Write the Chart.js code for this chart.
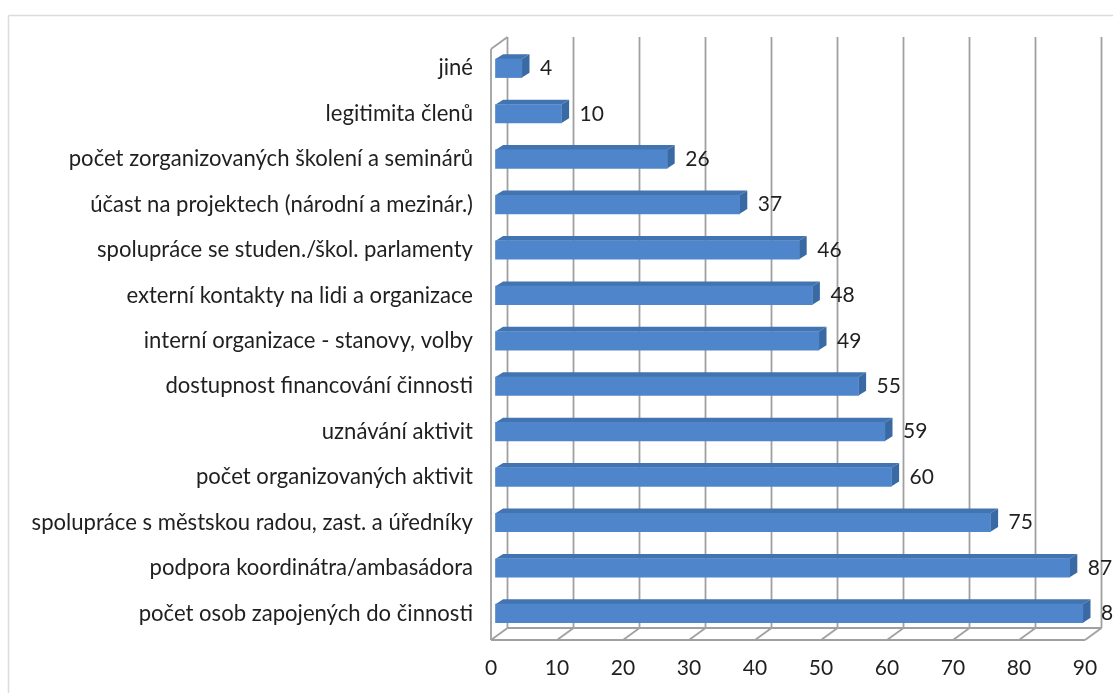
<!DOCTYPE html>
<html lang="cs">
<head>
<meta charset="utf-8">
<style>html,body{margin:0;padding:0;background:#fff;overflow:hidden}canvas{display:block;filter:blur(0.4px)}</style>
<script src="https://cdn.jsdelivr.net/npm/chart.js@4"></script>
</head>
<body>
<canvas id="c" width="1113" height="693" style="width:1113px;height:693px"></canvas>
<script>
const categories = ["jiné","legitimita členů","počet zorganizovaných školení a seminárů","účast na projektech (národní a mezinár.)","spolupráce se studen./škol. parlamenty","externí kontakty na lidi a organizace","interní organizace - stanovy, volby","dostupnost financování činnosti","uznávání aktivit","počet organizovaných aktivit","spolupráce s městskou radou, zast. a úředníky","podpora koordinátra/ambasádora","počet osob zapojených do činnosti"];
const values = [4,10,26,37,46,48,49,55,59,60,75,87,89];
const axisMax = 90;
const axisStep = 10;

const FONT = 'Lato, Carlito, sans-serif';
const WALL = '#a0a0a0';
const DEPTH_X = 16.5, DEPTH_Y = 12;      // floor/wall perspective
const BAR_SHIFT = 4.5, BAR_DX = 7.6, BAR_DY = 4.8; // bar 3-D extrusion

function line(ctx,x1,y1,x2,y2){ctx.beginPath();ctx.moveTo(x1,y1);ctx.lineTo(x2,y2);ctx.stroke();}
function poly(ctx,pts,fill){ctx.beginPath();pts.forEach((p,i)=>i?ctx.lineTo(p[0],p[1]):ctx.moveTo(p[0],p[1]));ctx.closePath();ctx.fillStyle=fill;ctx.fill();}

const threeD = {
  id:'threeD',
  beforeDraw(chart){
    const ctx=chart.ctx;
    ctx.save();
    ctx.strokeStyle='#dcdcdc';ctx.lineWidth=1.5;
    line(ctx,8.5,693,8.5,15.5);line(ctx,8.5,15.5,1113,15.5);
    ctx.restore();
  },
  beforeDatasetsDraw(chart){
    const ctx=chart.ctx,x=chart.scales.x;
    const yFront=640,yTop=49;
    const p0=x.getPixelForValue(0),pMax=x.getPixelForValue(axisMax);
    ctx.save();
    ctx.strokeStyle=WALL;ctx.lineWidth=1.8;
    x.ticks.forEach(t=>{
      const p=x.getPixelForValue(t.value);
      line(ctx,p+DEPTH_X,yTop-DEPTH_Y,p+DEPTH_X,yFront-DEPTH_Y);
      line(ctx,p,yFront,p+DEPTH_X,yFront-DEPTH_Y);
    });
    line(ctx,p0,yFront,pMax,yFront);
    line(ctx,p0+DEPTH_X,yFront-DEPTH_Y,pMax+DEPTH_X,yFront-DEPTH_Y);
    line(ctx,p0,yTop,p0,yFront);
    line(ctx,p0,yTop,p0+DEPTH_X,yTop-DEPTH_Y);
    ctx.restore();
  },
  beforeDatasetDraw(chart,args){
    const ctx=chart.ctx;
    ctx.save();
    ctx.translate(BAR_SHIFT,0);
    chart.getDatasetMeta(args.index).data.forEach(b=>{
      const t=b.y-b.height/2,bt=b.y+b.height/2;
      poly(ctx,[[b.base,t],[b.base+BAR_DX,t-BAR_DY],[b.x+BAR_DX,t-BAR_DY],[b.x,t]],'#4274b2');
      poly(ctx,[[b.x,t],[b.x+BAR_DX,t-BAR_DY],[b.x+BAR_DX,bt-BAR_DY],[b.x,bt]],'#3a6aa3');
    });
  },
  afterDatasetDraw(chart){ chart.ctx.restore(); },
  afterDatasetsDraw(chart){
    const ctx=chart.ctx;
    const meta=chart.getDatasetMeta(0);
    ctx.save();
    ctx.font='21px '+FONT;ctx.fillStyle='#1f1f1f';ctx.textAlign='left';ctx.textBaseline='middle';
    meta.data.forEach((b,i)=>ctx.fillText(String(values[i]),b.x+BAR_SHIFT+BAR_DX+10.5,b.y));
    ctx.restore();
  }
};

new Chart(document.getElementById('c'),{
  type:'bar',
  plugins:[threeD],
  data:{labels:categories,datasets:[{data:values,backgroundColor:'#4f86cb',barThickness:18.5,clip:false,borderWidth:0}]},
  options:{
    indexAxis:'y',responsive:false,animation:false,devicePixelRatio:1,
    layout:{padding:{top:45.6,right:28,left:0,bottom:0}},
    plugins:{legend:{display:false},tooltip:{enabled:false},title:{display:false}},
    scales:{
      x:{min:0,max:axisMax,
        ticks:{stepSize:axisStep,font:{family:FONT,size:21},color:'#1f1f1f',padding:12,maxRotation:0},
        grid:{display:false},border:{display:false},
        afterFit(s){s.height=693-636.1;s.paddingRight=0;s.paddingLeft=0;}},
      y:{ticks:{font:{family:FONT,size:22.1},color:'#1f1f1f',padding:18,autoSkip:false},
        grid:{display:false,drawTicks:false},border:{display:false},
        afterFit(s){s.width=491;s.paddingTop=0;s.paddingBottom=0;}}
    }
  }
});
</script>
</body>
</html>
